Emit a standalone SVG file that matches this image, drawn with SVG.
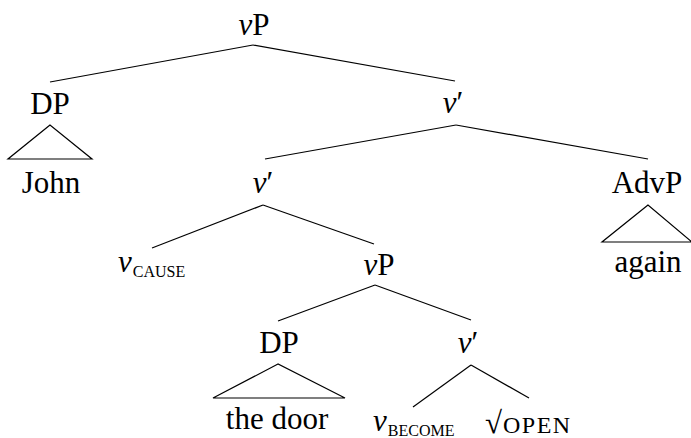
<svg xmlns="http://www.w3.org/2000/svg" width="691" height="438" viewBox="0 0 691 438">
<style>
  .lbl { text-anchor: middle; }
  .it { font-style: italic; }
  .sc { font-size: 16px; }
  line, polygon { stroke: #000; stroke-width: 1.2; fill: none; }
</style>
<rect width="691" height="438" fill="#fff"/>
<g id="connectors">
  <line x1="253" y1="45" x2="50" y2="82"/>
  <line x1="253" y1="45" x2="455" y2="81"/>
  <line x1="456" y1="125" x2="265" y2="159"/>
  <line x1="456" y1="125" x2="648" y2="159"/>
  <line x1="263" y1="205" x2="152" y2="248"/>
  <line x1="263" y1="205" x2="374" y2="244"/>
  <line x1="375" y1="285" x2="278" y2="321"/>
  <line x1="375" y1="285" x2="471" y2="320"/>
  <line x1="471" y1="365" x2="413" y2="407"/>
  <line x1="471" y1="365" x2="529" y2="398"/>
</g>
<g id="vP-root"><text class="lbl" x="254" y="35" font-family="Liberation Serif" font-size="31"><tspan class="it">ν</tspan>P</text></g>
<g id="DP-john">
  <text class="lbl" x="50" y="114" font-family="Liberation Serif" font-size="31">DP</text>
  <polygon points="50,125 8,159 92,159"/>
  <text class="lbl" x="51" y="193" font-family="Liberation Serif" font-size="31">John</text>
</g>
<g id="vbar-upper"><text class="lbl" x="453" y="113" font-family="Liberation Serif" font-size="31"><tspan class="it">ν</tspan>′</text></g>
<g id="vbar-mid"><text class="lbl" x="263" y="193" font-family="Liberation Serif" font-size="31"><tspan class="it">ν</tspan>′</text></g>
<g id="AdvP">
  <text class="lbl" x="647" y="193" font-family="Liberation Serif" font-size="31">AdvP</text>
  <polygon points="648,205 602,242 692,242"/>
  <text class="lbl" x="648" y="272" font-family="Liberation Serif" font-size="31">again</text>
</g>
<g id="v-cause"><text x="118" y="272" font-family="Liberation Serif" font-size="31"><tspan class="it">ν</tspan><tspan class="sc" dx="1" dy="5">CAUSE</tspan></text></g>
<g id="vP-lower"><text class="lbl" x="379" y="275" font-family="Liberation Serif" font-size="31"><tspan class="it">ν</tspan>P</text></g>
<g id="DP-door">
  <text class="lbl" x="279" y="353" font-family="Liberation Serif" font-size="31">DP</text>
  <polygon points="278,364 213,398 345,398"/>
  <text class="lbl" x="277" y="429" font-family="Liberation Serif" font-size="31">the door</text>
</g>
<g id="vbar-lower"><text class="lbl" x="468" y="353" font-family="Liberation Serif" font-size="31"><tspan class="it">ν</tspan>′</text></g>
<g id="v-become"><text x="373" y="431" font-family="Liberation Serif" font-size="31"><tspan class="it">ν</tspan><tspan class="sc" dx="1" dy="5">BECOME</tspan></text></g>
<g id="root-open">
  <text x="485" y="433" font-family="Liberation Serif" font-size="31">√</text>
  <text x="503" y="433" font-family="Liberation Serif" font-size="24" letter-spacing="1.5">OPEN</text>
</g>
</svg>
